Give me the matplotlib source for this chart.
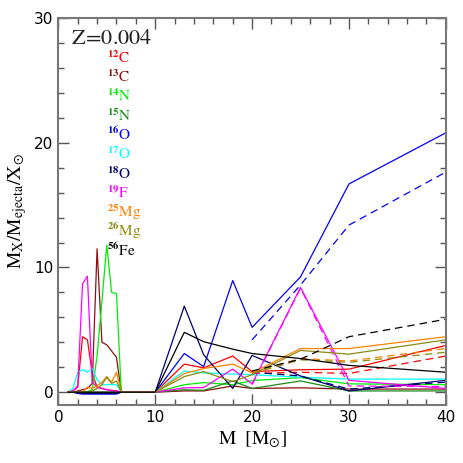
import matplotlib.pyplot as plt
from matplotlib.ticker import MultipleLocator

# mass grid: low-mass models, then massive models
m_low = [1.0, 1.5, 2.0, 2.5, 3.0, 3.5, 4.0, 4.5, 5.0, 5.5, 6.0, 6.5]
m_high = [10, 13, 15, 18, 20, 25, 30, 40]
m_dash = [20, 25, 30, 40]

species = ['12C', '13C', '14N', '15N', '16O', '17O', '18O', '19F', '25Mg', '26Mg', '56Fe']
colors = ['#ff0000', '#8b1010', '#00ee00', '#1a8a1a', '#0000ff', '#00ffff',
          '#00006e', '#ff00ff', '#ff8000', '#8a8a10', '#000000']

low = {
    '12C':  [0, 0.1, 0.4, 4.45, 4.2, 1.5, 0.4, 0.3, 0.2, 0.15, 0.1, 0],
    '13C':  [0, 0, 0.1, 0.2, 0.3, 0.7, 11.5, 4.0, 3.8, 3.3, 2.8, 0],
    '14N':  [0, 0, 0, 0, 0.05, 0.2, 2.9, 7.3, 11.8, 8.0, 7.9, 0],
    '15N':  [0, 0, 0, 0, 0, 0, 0, 0, 0, 0, 0, 0],
    '16O':  [0, 0, -0.1, -0.15, -0.15, -0.15, -0.15, -0.15, -0.15, -0.15, -0.15, 0],
    '17O':  [0, 0.3, 1.6, 1.8, 1.6, 1.9, 1.0, 0.6, 0.6, 0.6, 0.6, 0],
    '18O':  [0, 0, -0.05, -0.1, -0.1, -0.1, -0.1, -0.1, -0.1, -0.1, -0.1, 0],
    '19F':  [0, 0.1, 0.5, 8.7, 9.3, 0.8, 0.4, 0.3, 0.2, 0.1, 0.1, 0],
    '25Mg': [0, 0, 0, 0, 0.4, 0.3, 0.5, 0.8, 1.25, 0.8, 1.6, 0],
    '26Mg': [0, 0, 0, 0, 0, 0.1, 0.3, 0.6, 1.2, 0.7, 0.9, 0],
    '56Fe': [0, 0, 0, 0, 0, 0, 0, 0, 0, 0, 0, 0],
}

high = {
    '12C':  [0, 2.25, 1.95, 2.9, 1.65, 1.8, 1.85, 3.75],
    '13C':  [0, 0.1, 0.1, 0.5, 0.3, 0.35, 0.25, 0.25],
    '14N':  [0, 0.6, 0.77, 0.6, 0.93, 1.17, 0.67, 0.6],
    '15N':  [0, 0.2, 0.15, 0.9, 0.3, 0.9, 0.1, 0.1],
    '16O':  [0, 3.1, 2.05, 8.95, 5.2, 9.25, 16.7, 20.8],
    '17O':  [0, 1.7, 1.55, 1.45, 1.4, 1.2, 1.05, 1.05],
    '18O':  [0, 6.9, 3.0, 0.3, 2.95, 1.3, 0.1, 0.95],
    '19F':  [0, 0.35, 0.37, 1.85, 0.67, 8.4, 0.95, 0.3],
    '25Mg': [0, 1.5, 1.9, 2.25, 1.55, 3.5, 3.5, 4.45],
    '26Mg': [0, 1.25, 1.65, 0.85, 1.4, 3.35, 3.05, 4.2],
    '56Fe': [0, 4.8, 4.05, 3.45, 3.1, 2.7, 2.15, 1.6],
}

dashed = {
    '12C':  [1.5, 1.6, 1.5, 2.9],
    '16O':  [4.2, 8.6, 13.4, 17.65],
    '18O':  [1.6, 1.3, 0.25, 0.8],
    '19F':  [0.6, 8.35, 0.5, 0.45],
    '25Mg': [1.6, 2.7, 2.5, 3.5],
    '26Mg': [1.5, 2.6, 2.4, 3.2],
    '56Fe': [1.7, 2.65, 4.45, 5.85],
}


def label(sp):
    num = ''.join(c for c in sp if c.isdigit())
    el = ''.join(c for c in sp if c.isalpha())
    return r'$^{\mathbf{%s}}\mathrm{%s}$' % (num, el)


def main():
    plt.rcParams['mathtext.fontset'] = 'stix'
    plt.rcParams['font.family'] = 'DejaVu Sans'

    fig = plt.figure(figsize=(4.63, 4.63), dpi=100)
    ax = fig.add_axes([0.126, 0.126, 0.837, 0.835])

    masses = m_low + m_high
    for sp, c in zip(species, colors):
        ax.plot(masses, low[sp] + high[sp], color=c, lw=0.9)
        if sp in dashed:
            ax.plot(m_dash, dashed[sp], color=c, lw=0.9, ls=(0, (6, 4)))

    ax.set_xlim(0, 40)
    ax.set_ylim(-1, 30)
    ax.xaxis.set_major_locator(MultipleLocator(10))
    ax.xaxis.set_minor_locator(MultipleLocator(2))
    ax.yaxis.set_major_locator(MultipleLocator(10))
    ax.yaxis.set_minor_locator(MultipleLocator(2))
    ax.tick_params(which='both', direction='in', top=True, right=True,
                   color='#555555', labelsize=11)
    ax.tick_params(which='major', length=8, width=1.0)
    ax.tick_params(which='minor', length=4, width=1.0)
    for s in ax.spines.values():
        s.set_color('#777777')
        s.set_linewidth(1.5)

    ax.set_xlabel(r'$\mathrm{M}\ \ [\mathrm{M}_{\odot}]$', fontsize=14)
    ax.set_ylabel(r'$\mathrm{M_X/M_{ejecta}/X_{\odot}}$', fontsize=14)

    ax.text(1.3, 28.4, r'$\mathrm{Z\!=\!0.004}$', fontsize=16, color='#222222',
            va='center')
    for i, (sp, c) in enumerate(zip(species, colors)):
        ax.text(5.0, 26.85 - 1.55 * i, label(sp), color=c, fontsize=11,
                va='center')

    fig.savefig('out.png', dpi=100)
    plt.close(fig)


if __name__ == '__main__':
    main()
